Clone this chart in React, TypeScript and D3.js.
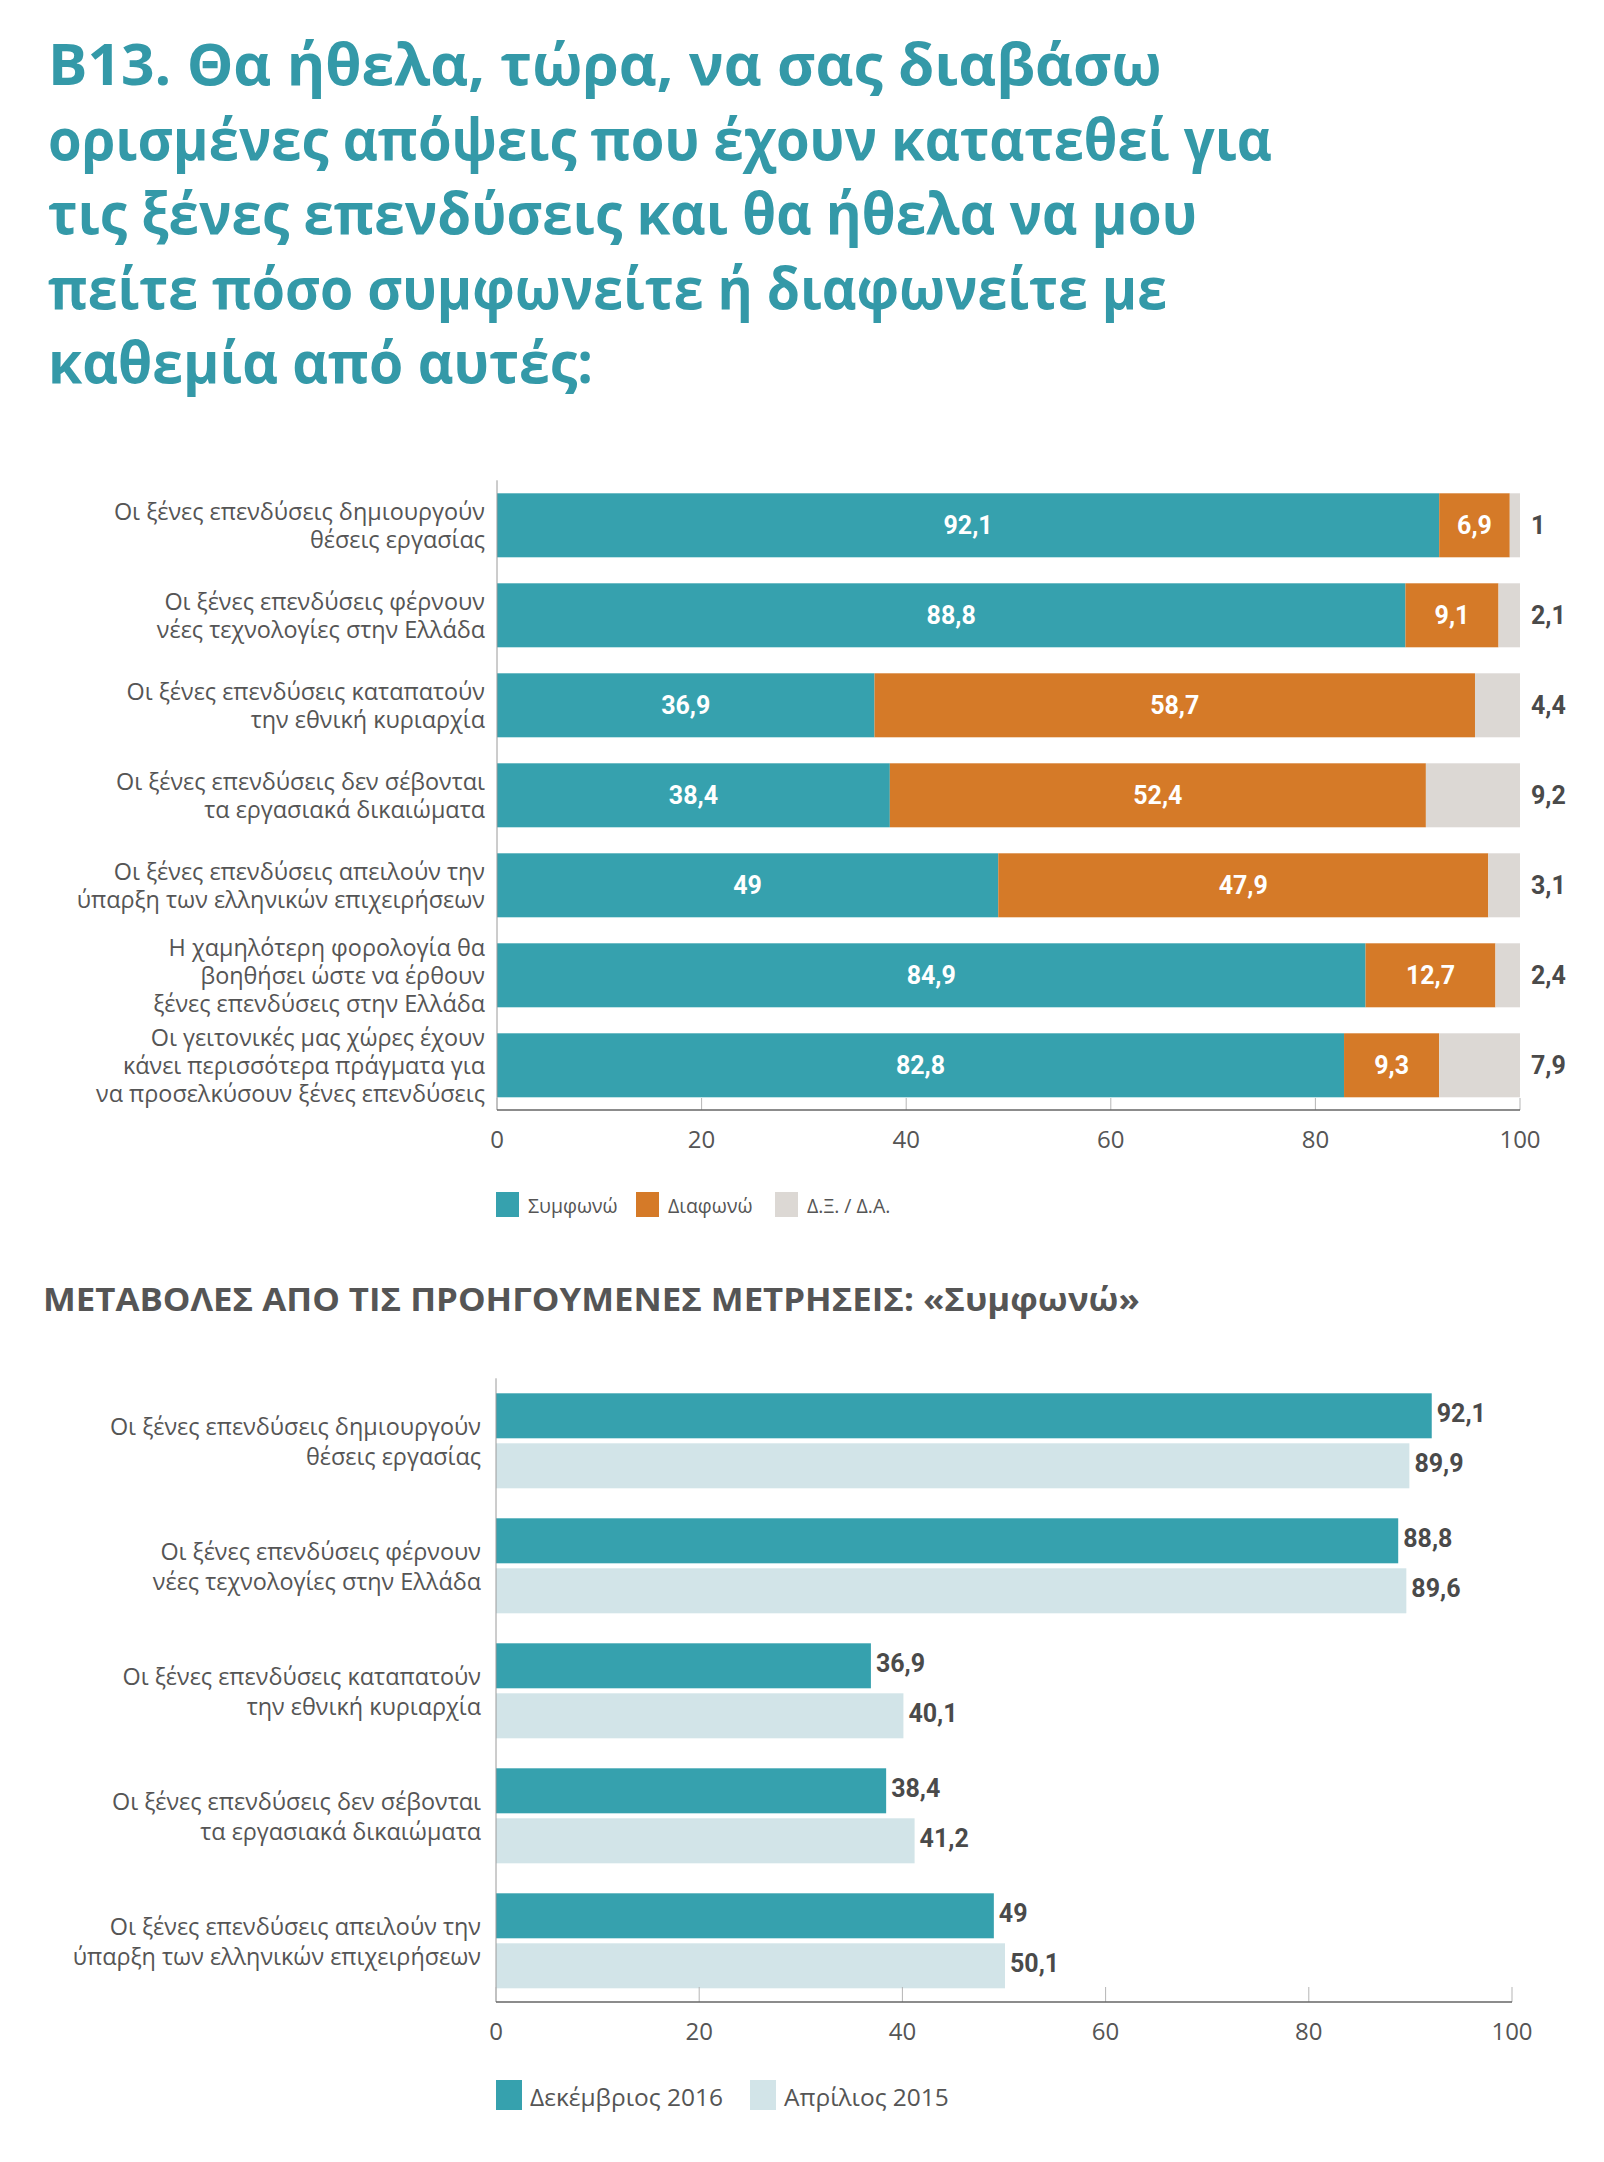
import React from 'react';
import * as d3 from 'd3';

// ---------- data ----------
const titleLines = [
  'Β13. Θα ήθελα, τώρα, να σας διαβάσω',
  'ορισμένες απόψεις που έχουν κατατεθεί για',
  'τις ξένες επενδύσεις και θα ήθελα να μου',
  'πείτε πόσο συμφωνείτε ή διαφωνείτε με',
  'καθεμία από αυτές:',
];
const subtitle = 'ΜΕΤΑΒΟΛΕΣ ΑΠΟ ΤΙΣ ΠΡΟΗΓΟΥΜΕΝΕΣ ΜΕΤΡΗΣΕΙΣ: «Συμφωνώ»';

const categories = [
  'Οι ξένες επενδύσεις δημιουργούν\nθέσεις εργασίας',
  'Οι ξένες επενδύσεις φέρνουν\nνέες τεχνολογίες στην Ελλάδα',
  'Οι ξένες επενδύσεις καταπατούν\nτην εθνική κυριαρχία',
  'Οι ξένες επενδύσεις δεν σέβονται\nτα εργασιακά δικαιώματα',
  'Οι ξένες επενδύσεις απειλούν την\nύπαρξη των ελληνικών επιχειρήσεων',
  'Η χαμηλότερη φορολογία θα\nβοηθήσει ώστε να έρθουν\nξένες επενδύσεις στην Ελλάδα',
  'Οι γειτονικές μας χώρες έχουν\nκάνει περισσότερα πράγματα για\nνα προσελκύσουν ξένες επενδύσεις',
];
const agree = [92.1, 88.8, 36.9, 38.4, 49, 84.9, 82.8];
const disagree = [6.9, 9.1, 58.7, 52.4, 47.9, 12.7, 9.3];
const dkna = [1, 2.1, 4.4, 9.2, 3.1, 2.4, 7.9];
const seriesNames = ['Συμφωνώ', 'Διαφωνώ', 'Δ.Ξ. / Δ.Α.'];

const changeCategories = categories.slice(0, 5);
const dec2016 = [92.1, 88.8, 36.9, 38.4, 49];
const apr2015 = [89.9, 89.6, 40.1, 41.2, 50.1];
const periodNames = ['Δεκέμβριος 2016', 'Απρίλιος 2015'];

const tickValues = [0, 20, 40, 60, 80, 100];

// ---------- style ----------
const TEAL = '#36a1ae';
const ORANGE = '#d57a28';
const GREY = '#dcd8d4';
const LIGHT = '#d2e4e8';
const TITLE = '#3499a8';
const TEXT = '#555555';
const VALUE = '#4a4a4a';
const LABEL_FONT = "'Open Sans', 'Noto Sans', sans-serif";
const NUM_FONT = "Roboto, 'Noto Sans', sans-serif";

const fmt = (v: number) => String(v).replace('.', ',');

export default function App() {
  // ----- top chart -----
  const x1 = d3.scaleLinear().domain([0, 100]).range([497, 1520]);
  const y1 = d3
    .scaleBand<string>()
    .domain(categories)
    .range([480.3, 1110.3])
    .paddingInner(26 / 90)
    .paddingOuter(13 / 90);
  const keys = ['agree', 'disagree', 'dkna'];
  const rows = categories.map((c, i) => ({ cat: c, agree: agree[i], disagree: disagree[i], dkna: dkna[i] }));
  const stacked = d3.stack<any>().keys(keys)(rows);
  const colors = [TEAL, ORANGE, GREY];

  // ----- bottom chart -----
  const x2 = d3.scaleLinear().domain([0, 100]).range([496, 1512]);
  const y2 = d3
    .scaleBand<string>()
    .domain(changeCategories)
    .range([1378.3, 2003.3])
    .paddingInner(0.24)
    .paddingOuter(0.12);
  const inner = d3.scaleBand<string>().domain(['d', 'a']).range([0, y2.bandwidth()]).paddingInner(0.1).paddingOuter(0);
  const periods = [
    { key: 'd', values: dec2016, color: TEAL },
    { key: 'a', values: apr2015, color: LIGHT },
  ];

  const axis1Y = 1110;
  const axis2Y = 2002;

  const renderLabel = (text: string, cy: number, xRight: number, lh: number, size: number, key: string) => {
    const lines = text.split('\n');
    const start = cy - ((lines.length - 1) * lh) / 2;
    return (
      <text key={key} x={xRight} textAnchor="end" fontFamily={LABEL_FONT} fontSize={size} fill={TEXT}>
        {lines.map((l, j) => (
          <tspan key={j} x={xRight} y={start + j * lh} dominantBaseline="central">
            {l}
          </tspan>
        ))}
      </text>
    );
  };

  const titleWidths = [1114, 1224, 1149, 1119, 545];

  return (
    <svg
      width={1604}
      height={2162}
      viewBox="0 0 1604 2162"
      style={{ position: 'absolute', left: 0, top: 0, display: 'block', background: '#fff' }}
    >
      <rect x={0} y={0} width={1604} height={2162} fill="#fff" />
      {/* title */}
      {titleLines.map((t, i) => (
        <text
          key={i}
          x={48}
          y={85 + i * 74.5}
          fontFamily={LABEL_FONT}
          fontWeight={700}
          fontSize={58}
          fill={TITLE}
          textLength={titleWidths[i]}
          lengthAdjust="spacingAndGlyphs"
        >
          {t}
        </text>
      ))}

      {/* ===== top chart ===== */}
      {stacked.map((s, si) =>
        s.map((d, i) => {
          const y = y1(categories[i])!;
          const xa = x1(d[0]);
          const xb = x1(d[1]);
          return (
            <rect key={`b${si}-${i}`} x={xa} y={y} width={xb - xa} height={y1.bandwidth()} fill={colors[si]} />
          );
        })
      )}
      {stacked.map((s, si) =>
        s.map((d, i) => {
          const y = y1(categories[i])! + y1.bandwidth() / 2;
          const v = d[1] - d[0];
          if (si < 2) {
            return (
              <text
                key={`v${si}-${i}`}
                x={(x1(d[0]) + x1(d[1])) / 2}
                y={y}
                textAnchor="middle"
                dominantBaseline="central"
                fontFamily={NUM_FONT}
                fontWeight={700}
                fontSize={25}
                fill="#fff"
              >
                {fmt(Math.round(v * 10) / 10)}
              </text>
            );
          }
          return (
            <text
              key={`v${si}-${i}`}
              x={x1(100) + 11}
              y={y}
              dominantBaseline="central"
              fontFamily={NUM_FONT}
              fontWeight={700}
              fontSize={25}
              fill={VALUE}
            >
              {fmt(Math.round(v * 10) / 10)}
            </text>
          );
        })
      )}
      {categories.map((c, i) => renderLabel(c, y1(c)! + y1.bandwidth() / 2, 485, 28, 23.4, `c1-${i}`))}
      {/* axes top */}
      <line x1={x1(0)} x2={x1(0)} y1={480.3} y2={axis1Y} stroke="#9a9a9a" strokeWidth={1} />
      {tickValues.map((t) => (
        <g key={`t1-${t}`}>
          <line x1={x1(t)} x2={x1(t)} y1={axis1Y - 12} y2={axis1Y} stroke="#b5b5b5" strokeWidth={1} />
          <text
            x={x1(t)}
            y={1138}
            textAnchor="middle"
            dominantBaseline="central"
            fontFamily={LABEL_FONT}
            fontSize={24}
            fill={TEXT}
          >
            {t}
          </text>
        </g>
      ))}
      <line x1={x1(0)} x2={x1(100)} y1={axis1Y} y2={axis1Y} stroke="#666" strokeWidth={1.5} />
      {/* legend top */}
      {seriesNames.map((n, i) => {
        const lx = [496, 636, 775][i];
        return (
          <g key={`l1-${i}`}>
            <rect x={lx} y={1192} width={23} height={25} fill={colors[i]} />
            <text
              x={lx + 32}
              y={1205}
              dominantBaseline="central"
              fontFamily={LABEL_FONT}
              fontSize={19.5}
              fill={TEXT}
            >
              {n}
            </text>
          </g>
        );
      })}

      {/* subtitle */}
      <text
        x={43}
        y={1311}
        fontFamily={LABEL_FONT}
        fontWeight={700}
        fontSize={32}
        fill={TEXT}
        textLength={1097}
        lengthAdjust="spacingAndGlyphs"
      >
        {subtitle}
      </text>

      {/* ===== bottom chart ===== */}
      {periods.map((p) =>
        p.values.map((v, i) => {
          const y = y2(changeCategories[i])! + inner(p.key)!;
          return (
            <g key={`p${p.key}-${i}`}>
              <rect x={x2(0)} y={y} width={x2(v) - x2(0)} height={inner.bandwidth()} fill={p.color} />
              <text
                x={x2(v) + 5}
                y={y + inner.bandwidth() / 2 - 2}
                dominantBaseline="central"
                fontFamily={NUM_FONT}
                fontWeight={700}
                fontSize={25}
                fill={VALUE}
              >
                {fmt(v)}
              </text>
            </g>
          );
        })
      )}
      {changeCategories.map((c, i) => renderLabel(c, y2(c)! + y2.bandwidth() / 2, 481, 30, 23.4, `c2-${i}`))}
      <line x1={x2(0)} x2={x2(0)} y1={1378.3} y2={axis2Y} stroke="#9a9a9a" strokeWidth={1} />
      {tickValues.map((t) => (
        <g key={`t2-${t}`}>
          <line x1={x2(t)} x2={x2(t)} y1={axis2Y - 15} y2={axis2Y} stroke="#b5b5b5" strokeWidth={1} />
          <text
            x={x2(t)}
            y={2030}
            textAnchor="middle"
            dominantBaseline="central"
            fontFamily={LABEL_FONT}
            fontSize={24}
            fill={TEXT}
          >
            {t}
          </text>
        </g>
      ))}
      <line x1={x2(0)} x2={x2(100)} y1={axis2Y} y2={axis2Y} stroke="#666" strokeWidth={1.5} />
      {periodNames.map((n, i) => {
        const lx = [496, 750][i];
        return (
          <g key={`l2-${i}`}>
            <rect x={lx} y={2080} width={26} height={30} fill={periods[i].color} />
            <text
              x={lx + 34}
              y={2096}
              dominantBaseline="central"
              fontFamily={LABEL_FONT}
              fontSize={24.5}
              fill={TEXT}
            >
              {n}
            </text>
          </g>
        );
      })}
    </svg>
  );
}
